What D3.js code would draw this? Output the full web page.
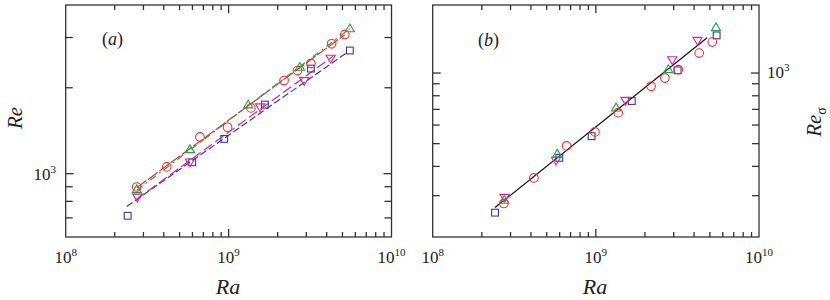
<!DOCTYPE html>
<html><head><meta charset="utf-8">
<script src="https://cdn.jsdelivr.net/npm/d3@7"></script>
<style>body{margin:0;background:#fff}svg{display:block}text{fill:#222}</style>
</head><body><svg id="c" width="830" height="300" font-family="'Liberation Serif', 'Times New Roman', Times, serif"></svg>
<script>
// ---------- data ----------
const xTickDecades = [8, 9, 10];
// panel (a): Re vs Ra
const circRa = [2.73e8, 4.17e8, 6.67e8, 9.86e8, 1.37e9, 2.19e9, 2.65e9, 3.2e9, 4.29e9, 5.17e9];
const circRe = [898, 1056, 1345, 1454, 1700, 2120, 2298, 2432, 2852, 3075];
const triUpRa = [2.73e8, 5.79e8, 1.32e9, 2.74e9, 5.55e9];
const triUpRe = [879, 1214, 1742, 2360, 3219];
const triDnRa = [2.75e8, 5.79e8, 1.56e9, 2.91e9, 4.23e9];
const triDnRe = [828, 1099, 1714, 2120, 2539];
const sqRa = [2.40e8, 5.98e8, 9.4e8, 1.67e9, 3.2e9, 5.55e9];
const sqRe = [712, 1096, 1324, 1746, 2335, 2701];
// fitted lines (a): [start, end]
const fitCircRa = [2.73e8, 5.17e9], fitCircRe = [893, 3070];
const fitTriUpRa = [2.73e8, 5.55e9], fitTriUpRe = [875, 3220];
const fitTriDnRa = [2.70e8, 4.38e9], fitTriDnRe = [811, 2580];
const fitSqRa = [2.37e8, 5.3e9], fitSqRe = [768, 2651];
// panel (b): Re_sigma vs Ra
const circRaB = [2.73e8, 4.17e8, 6.62e8, 9.87e8, 1.37e9, 2.18e9, 2.65e9, 3.2e9, 4.3e9, 5.17e9];
const circReS = [278, 357, 489, 561, 678, 878, 952, 1034, 1216, 1355];
const triUpRaB = [2.75e8, 5.8e8, 1.33e9, 2.78e9, 5.45e9];
const triUpReS = [287, 451, 710, 1034, 1561];
const triDnRaB = [2.76e8, 5.7e8, 1.52e9, 2.94e9, 4.2e9];
const triDnReS = [295, 425, 765, 1140, 1378];
const sqRaB = [2.41e8, 5.97e8, 9.42e8, 1.66e9, 3.17e9, 5.5e9];
const sqReS = [254, 435, 538, 760, 1027, 1447];
const fitBRa = [2.41e8, 4.81e9], fitBReS = [267, 1415];

const colors = {circ: "#ee3333", triUp: "#22a050", triDn: "#dd22aa", sq: "#3a3aa0"};

// ---------- drawing ----------
const svg = d3.select("#c");
const xA = d3.scaleLog().domain([1e8, 1e10]).range([65.7, 391.5]);
const yA = d3.scaleLog().domain([600, 3900]).range([237, 5]);
const xB = d3.scaleLog().domain([1e8, 1e10]).range([432.7, 759]);
const yB = d3.scaleLog().domain([200, 1950]).range([237, 5]);

function isMajor(v){ const l = Math.log10(v); return Math.abs(l - Math.round(l)) < 1e-9; }

function frame(x, y, yTicks) {
  const g = svg.append("g");
  const [x0, x1] = x.range(), [y0, y1] = y.range();
  const xt = [];
  for (let d = 8; d < 10; d++) for (let m = 1; m < 10; m++) xt.push(m * Math.pow(10, d));
  xt.filter(v => v > 1e8 && v < 1e10).forEach(v => {
    const L = isMajor(v) ? 8 : 5, px = x(v);
    g.append("line").attr("x1", px).attr("x2", px).attr("y1", y0).attr("y2", y0 - L);
    g.append("line").attr("x1", px).attr("x2", px).attr("y1", y1).attr("y2", y1 + L);
  });
  yTicks.forEach(v => {
    const L = isMajor(v) ? 8 : 7, py = y(v);
    g.append("line").attr("x1", x0).attr("x2", x0 + L).attr("y1", py).attr("y2", py);
    g.append("line").attr("x1", x1).attr("x2", x1 - L).attr("y1", py).attr("y2", py);
  });
  g.append("rect").attr("x", x0).attr("y", y1).attr("width", x1 - x0).attr("height", y0 - y1)
    .attr("fill", "none");
  g.selectAll("line,rect").attr("stroke", "#333").attr("stroke-width", 1.3);
  xTickDecades.forEach(d => {
    const t = svg.append("text").attr("x", x(Math.pow(10, d))).attr("y", 263)
      .attr("text-anchor", "middle").attr("font-size", 17);
    t.append("tspan").text("10");
    t.append("tspan").attr("font-size", 11).attr("dy", -7).text(d);
  });
}

frame(xA, yA, [700, 800, 900, 1000, 2000, 3000]);
frame(xB, yB, [300, 400, 500, 600, 700, 800, 900, 1000]);

function sup(x, y, anchor, exp) {
  const t = svg.append("text").attr("x", x).attr("y", y).attr("text-anchor", anchor).attr("font-size", 17);
  t.append("tspan").text("10");
  t.append("tspan").attr("font-size", 11).attr("dy", -7).text(exp);
}
sup(56, 180, "end", 3);
sup(767, 78, "start", 3);

// axis titles
svg.append("text").attr("x", 228).attr("y", 294).attr("text-anchor", "middle")
  .attr("font-size", 22).attr("font-style", "italic").text("Ra");
svg.append("text").attr("x", 595).attr("y", 294).attr("text-anchor", "middle")
  .attr("font-size", 22).attr("font-style", "italic").text("Ra");
svg.append("text").attr("transform", "translate(22,118) rotate(-90)").attr("text-anchor", "middle")
  .attr("font-size", 21).attr("font-style", "italic").text("Re");
const rs = svg.append("text").attr("transform", "translate(821,122) rotate(-90)").attr("text-anchor", "middle")
  .attr("font-size", 21).attr("font-style", "italic");
rs.append("tspan").text("Re");
rs.append("tspan").attr("font-size", 14).attr("dy", 5).attr("font-style", "normal").text("σ");

// panel labels
function plabel(x, y, letter) {
  const t = svg.append("text").attr("x", x).attr("y", y).attr("font-size", 18);
  t.append("tspan").text("(");
  t.append("tspan").attr("font-style", "italic").text(letter);
  t.append("tspan").text(")");
}
plabel(102, 45, "a");
plabel(478, 46, "b");

// fit lines
const lineGen = (x, y) => d3.line().x(d => x(d[0])).y(d => y(d[1]));
function fit(x, y, ra, re, color, dash, w) {
  svg.append("path").datum(d3.zip(ra, re)).attr("d", lineGen(x, y))
    .attr("fill", "none").attr("stroke", color).attr("stroke-width", w || 1.2)
    .attr("stroke-dasharray", dash);
}
fit(xA, yA, fitSqRa, fitSqRe, colors.sq, "7,3");
fit(xA, yA, fitTriDnRa, fitTriDnRe, colors.triDn, "10,4");
fit(xA, yA, fitCircRa, fitCircRe, colors.circ, "12,2");
fit(xA, yA, fitTriUpRa, fitTriUpRe, colors.triUp, "7,4,2,4");
fit(xB, yB, fitBRa, fitBReS, "#111", null, 1.2);

// markers
function markers(x, y, ra, re, type, color) {
  const pts = d3.zip(ra, re);
  const g = svg.append("g").attr("fill", "none").attr("stroke", color).attr("stroke-width", 1.1);
  pts.forEach(([a, b]) => {
    const px = x(a), py = y(b);
    if (type === "circ") g.append("circle").attr("cx", px).attr("cy", py).attr("r", 4.3);
    else if (type === "sq") g.append("rect").attr("x", px - 3.4).attr("y", py - 3.4).attr("width", 6.8).attr("height", 6.8);
    else if (type === "triUp") g.append("path").attr("d", `M${px},${py - 4.8}L${px + 4.6},${py + 3}L${px - 4.6},${py + 3}Z`);
    else g.append("path").attr("d", `M${px},${py + 4.8}L${px + 4.6},${py - 3}L${px - 4.6},${py - 3}Z`);
  });
}
markers(xA, yA, sqRa, sqRe, "sq", colors.sq);
markers(xA, yA, triDnRa, triDnRe, "triDn", colors.triDn);
markers(xA, yA, triUpRa, triUpRe, "triUp", colors.triUp);
markers(xA, yA, circRa, circRe, "circ", colors.circ);
markers(xB, yB, sqRaB, sqReS, "sq", colors.sq);
markers(xB, yB, triDnRaB, triDnReS, "triDn", colors.triDn);
markers(xB, yB, triUpRaB, triUpReS, "triUp", colors.triUp);
markers(xB, yB, circRaB, circReS, "circ", colors.circ);
</script></body></html>
